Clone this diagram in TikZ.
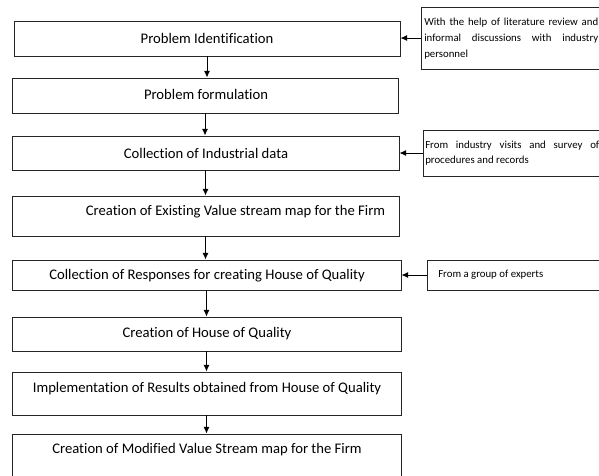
\documentclass[tikz,border=0pt]{standalone}
\usepackage{fontspec}
\setmainfont[Ligatures=NoCommon]{Carlito}
\usetikzlibrary{arrows.meta,fit}
\begin{document}
\begin{tikzpicture}[x=0.75pt,y=-0.75pt,
  stagebox/.style={draw=black!85, line width=0.7pt, inner sep=0pt},
  notebox/.style={draw=black!85, line width=0.7pt, inner sep=0pt},
  stagetext/.style={font=\fontsize{11}{13}\selectfont, inner sep=0pt},
  notetext/.style={font=\fontsize{8.1}{12}\selectfont,
    execute at begin node={\hyphenpenalty=10000\relax\tolerance=10000\relax\hbadness=10000\relax},
    inner sep=0pt, text width=130.5pt, align=justify, anchor=north west},
  flowarrow/.style={-{Latex[length=5pt,width=4.5pt]}, line width=0.7pt, black}]
\useasboundingbox (0,0) rectangle (599,475);
\clip (0,0) rectangle (599,475);

% main sequence of stages
\node[stagebox, fit={(14,21)(400,56)}]  (b1) {};
\node[stagebox, fit={(12,78)(398,113)}] (b2) {};
\node[stagebox, fit={(12,136)(399,170)}] (b3) {};
\node[stagebox, fit={(12,196)(399,236)}] (b4) {};
\node[stagebox, fit={(12,260)(401,290)}] (b5) {};
\node[stagebox, fit={(12,317)(401,351)}] (b6) {};
\node[stagebox, fit={(12,372)(401,415)}] (b7) {};
\node[stagebox, fit={(12,434)(401,482)}] (b8) {};

\node[stagetext] (t1) at (207,38.5) {Problem Identification};
\node[stagetext] (t2) at (206,94.5) {Problem formulation};
\node[stagetext] (t3) at (206,153) {Collection of Industrial data};
\node[stagetext] (t4) at (235.5,212) {Creation of Existing Value stream map for the Firm};
\node[stagetext] (t5) at (207,276) {Collection of Responses for creating House of Quality};
\node[stagetext] (t6) at (207,334) {Creation of House of Quality};
\node[stagetext] (t7) at (207,389) {Implementation of Results obtained from House of Quality};
\node[stagetext] (t8) at (207,450) {Creation of Modified Value Stream map for the Firm};

% side notes on the sources of input
\node[notebox, fit={(421,7)(606,69)}]   (n1) {};
\node[notebox, fit={(423,130)(606,176)}] (n2) {};
\node[notebox, fit={(427,260)(606,290)}] (n3) {};

\node[notetext] (s1) at (424,18) {With the help of literature review and\linebreak informal discussions with industry\linebreak personnel};
\node[notetext, font=\fontsize{8.1}{11}\selectfont] (s2) at (425,141) {From industry visits and survey of\linebreak procedures and records};
\node[font=\fontsize{8.1}{11}\selectfont, inner sep=0pt, anchor=west] (s3) at (438,275) {From a group of experts};

% flow between stages
\foreach \a/\b in {b1/b2,b2/b3,b3/b4,b4/b5,b5/b6,b6/b7,b7/b8}
  \draw[flowarrow] (\a.south) -- (\a.south |- \b.north);

% inputs from the notes
\draw[flowarrow] (n1.west) -- (n1.west -| b1.east);
\draw[flowarrow] (n2.west) -- (n2.west -| b3.east);
\draw[flowarrow] (n3.west) -- (n3.west -| b5.east);
\end{tikzpicture}
\end{document}
